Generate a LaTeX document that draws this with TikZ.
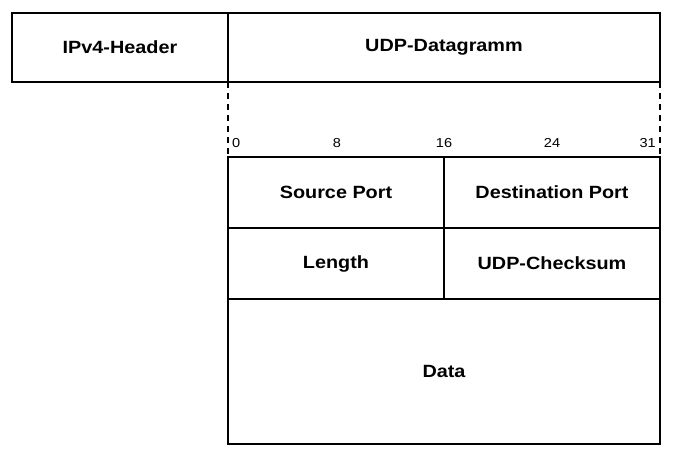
\documentclass[tikz,border=0pt]{standalone}
\usepackage{fontspec}
\setmainfont[FakeStretch=1.12]{Liberation Sans}
\usepackage{tikz}

\tikzset{
	field/.style = {draw, line width=2.7pt, outer sep=0pt, inner sep=0pt,
		font=\fontsize{17.7}{20}\selectfont\bfseries},
	bitno/.style = {font=\fontsize{13}{15}\selectfont, inner sep=0pt},
	guide/.style = {line width=2pt, dash pattern=on 6pt off 5pt}
}

\begin{document}
\begin{tikzpicture}[x=1pt, y=-1pt]
			\useasboundingbox (0,0) rectangle (675,456);

			\def\w{216};
			\def\rh{71};

			% outer frame
			\node[field, minimum width=\w, minimum height=69] (ipv4) at (120,47.5) {IPv4-Header};
			\node[field, minimum width=2*\w, minimum height=69] (udp) at (444,47.5) {UDP-Datagramm};

			% header fields
			\node[field, minimum width=\w, minimum height=\rh] (src) at (336,192.5) {Source Port};
			\node[field, minimum width=\w, minimum height=\rh] (dst) at (552,192.5) {Destination Port};
			\node[field, minimum width=\w, minimum height=\rh] (len) at (336,263.5) {Length};
			\node[field, minimum width=\w, minimum height=\rh] (sum) at (552,263.5) {UDP-Checksum};
			\node[field, minimum width=2*\w, minimum height=145] (data) at (444,371.5) {Data};

			% bit positions
			\node[bitno, anchor=base west] (b0) at (232,147) {0};
			\foreach \b/\x in {8/337, 16/444, 24/552}
				\node[bitno, anchor=base] (b\b) at (\x,147) {\b};
			\node[bitno, anchor=base east] (b31) at (656,147) {31};

			\draw[guide] (udp.south west) -- (src.north west);
			\draw[guide] (udp.south east) -- (dst.north east);
		\end{tikzpicture}
\end{document}
